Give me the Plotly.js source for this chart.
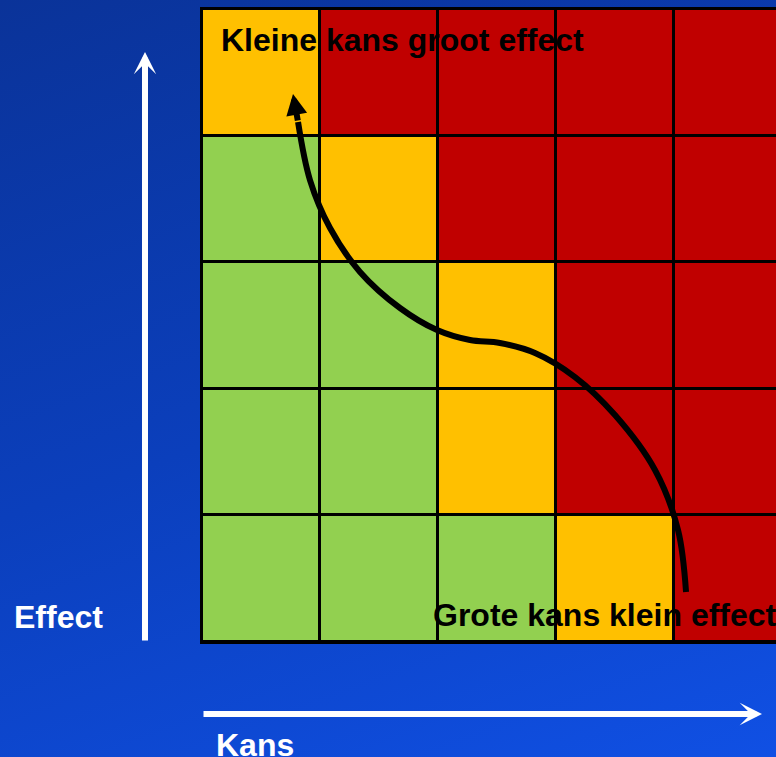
<!DOCTYPE html>
<html><head><meta charset="utf-8">
<script src="https://cdn.plot.ly/plotly-3.0.1.min.js"></script>
<style>
html,body{margin:0;padding:0;width:776px;height:757px;overflow:hidden;
background:linear-gradient(160deg,#0a3399 0%,#0b3fbc 50%,#1050e4 100%);}
#chart{width:776px;height:757px;}
</style></head><body><div id="chart"></div>
<script>
// Kans (columns, left = small) and Effect (rows, bottom = small)
const kansCols = [0.5, 1.5, 2.5, 3.5, 4.5];
const effectRows = [0.5, 1.5, 2.5, 3.5, 4.5];
// 0 = groen, 1 = oranje, 2 = rood ; rows listed from bottom to top
const riskLevels = [
  [0, 0, 0, 1, 2],
  [0, 0, 1, 2, 2],
  [0, 0, 1, 2, 2],
  [0, 1, 2, 2, 2],
  [1, 2, 2, 2, 2]
];
// path from "Grote kans klein effect" to "Kleine kans groot effect"
const curveX = [4.102, 4.034, 3.839, 3.500, 3.161, 2.822, 2.525, 2.271, 1.992, 1.678, 1.339, 1.085, 0.915, 0.814];
const curveY = [0.395, 0.885, 1.359, 1.793, 2.093, 2.283, 2.362, 2.385, 2.464, 2.638, 2.923, 3.270, 3.649, 4.107];
const arrowTip = [0.771, 4.329];
const labelTop = 'Kleine kans groot effect';
const labelBottom = 'Grote kans klein effect';
const axisLabelY = 'Effect';
const axisLabelX = 'Kans';

const W = 776, H = 757, L = 202, R = 0, T = 9, B = 115;
const pw = W - L - R, ph = H - T - B;
const px = x => (x - L) / pw;
const py = y => (H - B - y) / ph;

const font = 'Liberation Sans, Arial, sans-serif';

const data = [
  {
    type: 'heatmap', x: kansCols, y: effectRows, z: riskLevels,
    zmin: 0, zmax: 2, showscale: false, xgap: 3, ygap: 3, hoverinfo: 'skip',
    colorscale: [[0, '#92D050'], [0.25, '#92D050'], [0.25, '#FFC000'], [0.75, '#FFC000'], [0.75, '#C00000'], [1, '#C00000']]
  },
  {
    type: 'scatter', mode: 'lines', x: curveX, y: curveY,
    line: {color: '#000', width: 6, shape: 'spline', smoothing: 1},
    hoverinfo: 'skip'
  }
];

const layout = {
  width: W, height: H,
  margin: {l: L, r: R, t: T, b: B, pad: 0},
  paper_bgcolor: 'rgba(0,0,0,0)', plot_bgcolor: '#000',
  showlegend: false,
  xaxis: {range: [0, pw / 118], showgrid: false, zeroline: false, showticklabels: false, ticks: '',
          showline: true, linecolor: '#000', linewidth: 2, mirror: true, fixedrange: true},
  yaxis: {range: [0, 5], showgrid: false, zeroline: false, showticklabels: false, ticks: '',
          showline: true, linecolor: '#000', linewidth: 2, mirror: true, fixedrange: true},
  annotations: [
    {xref: 'paper', yref: 'paper', x: px(219), y: py(40), xanchor: 'left', yanchor: 'middle',
     text: '<b>' + labelTop + '</b>', showarrow: false, font: {family: font, size: 32, color: '#000'}},
    {xref: 'paper', yref: 'paper', x: px(431), y: py(615), xanchor: 'left', yanchor: 'middle',
     text: '<b>' + labelBottom + '</b>', showarrow: false, font: {family: font, size: 32, color: '#000'}},
    {xref: 'paper', yref: 'paper', x: px(12), y: py(617), xanchor: 'left', yanchor: 'middle',
     text: '<b>' + axisLabelY + '</b>', showarrow: false, font: {family: font, size: 32, color: '#fff'}},
    {xref: 'paper', yref: 'paper', x: px(214), y: py(745), xanchor: 'left', yanchor: 'middle',
     text: '<b>' + axisLabelX + '</b>', showarrow: false, font: {family: font, size: 32, color: '#fff'}},
    // white axis arrows
    {xref: 'paper', yref: 'paper', x: px(145), y: py(52), ax: 0, ay: 590, text: '',
     showarrow: true, arrowhead: 3, arrowsize: 0.62, arrowwidth: 6, arrowcolor: '#fff'},
    {xref: 'paper', yref: 'paper', x: px(762), y: py(714), ax: -560, ay: 0, text: '',
     showarrow: true, arrowhead: 3, arrowsize: 0.62, arrowwidth: 6, arrowcolor: '#fff'},
    // black arrowhead of the path
    {xref: 'x', yref: 'y', x: arrowTip[0], y: arrowTip[1], axref: 'x', ayref: 'y',
     ax: curveX[curveX.length - 1], ay: curveY[curveY.length - 1], text: '',
     showarrow: true, arrowhead: 2, arrowsize: 0.7, arrowwidth: 6, arrowcolor: '#000'}
  ]
};

Plotly.newPlot('chart', data, layout, {staticPlot: true, displayModeBar: false});
</script></body></html>
